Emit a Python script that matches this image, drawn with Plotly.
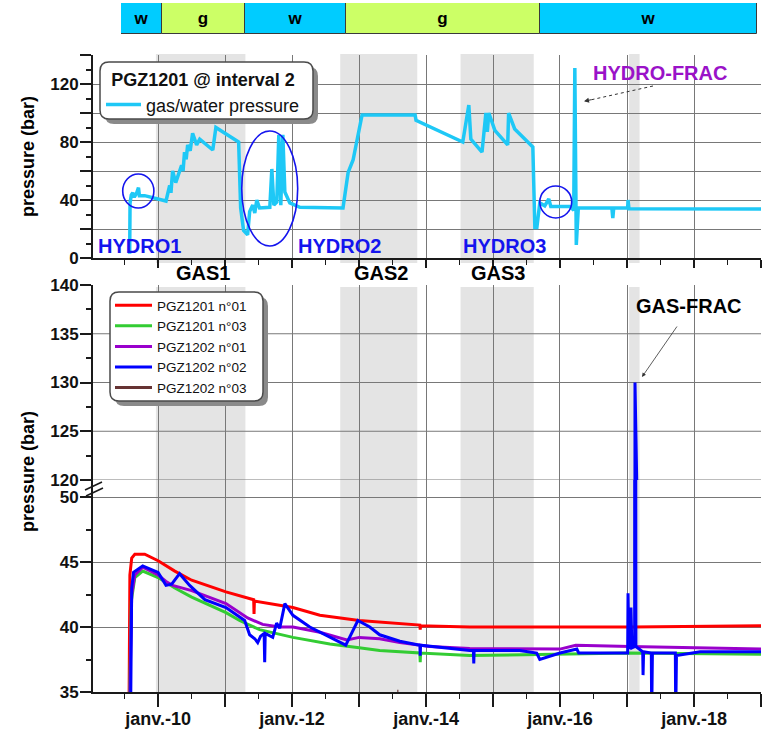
import plotly.graph_objects as go

W, H = 769, 730
FONT = "Liberation Sans, Arial, sans-serif"


def fx(p):
    """Horizontal pixel position -> paper fraction."""
    return p / W


def fy(p):
    """Vertical pixel position (from top) -> paper fraction."""
    return 1 - p / H


# ---------------------------------------------------------------- data
# Phase strip (w = water, g = gas), relative lengths
phase_labels = ["w", "g", "w", "g", "w"]
phase_spans = [41, 83, 101, 194, 217]

# Gas injection periods (grey bands)
gas_start = ["2009-12-20", "2012-09-20", "2014-07-08", "2017-01-12"]
gas_end = ["2011-04-22", "2013-11-14", "2015-08-11", "2017-03-10"]
gas_names = ["GAS1", "GAS2", "GAS3"]

# PGZ1201 @ interval 2 - gas/water pressure (bar)
gw_dates = [
    "2009-07-30", "2009-08-01", "2009-08-08", "2009-08-16", "2009-08-24",
    "2009-09-05", "2009-09-16", "2009-09-21", "2009-10-20", "2009-12-14",
    "2010-02-13", "2010-03-05", "2010-03-12", "2010-03-21", "2010-04-07",
    "2010-05-09", "2010-05-17", "2010-05-25", "2010-06-03", "2010-06-11",
    "2010-06-25", "2010-07-08", "2010-07-30", "2010-08-16", "2010-10-26",
    "2010-11-12", "2011-02-13", "2011-03-16", "2011-03-27", "2011-04-12",
    "2011-05-04", "2011-05-15", "2011-06-01", "2011-06-12", "2011-06-23",
    "2011-07-08", "2011-09-02", "2011-09-13", "2011-09-24", "2011-10-10",
    "2011-10-21", "2011-11-01", "2011-11-12", "2011-11-23", "2011-12-20",
    "2012-02-13", "2012-10-05", "2012-11-02", "2012-11-29", "2013-01-17",
    "2013-11-02", "2013-11-07", "2014-07-20", "2014-08-22", "2014-09-02",
    "2014-11-02", "2014-11-23", "2014-12-01", "2014-12-09", "2015-01-11",
    "2015-03-22", "2015-03-27", "2015-04-29", "2015-07-09", "2015-08-06",
    "2015-08-17", "2015-08-28", "2015-09-13", "2015-10-10", "2015-11-01",
    "2015-11-12", "2016-02-24", "2016-03-16", "2016-03-22", "2016-03-30",
    "2016-04-10", "2016-10-10", "2016-10-15", "2016-10-20", "2017-01-04",
    "2017-01-06", "2017-01-11", "2019-01-01",
]
gw_pressure = [
    3, 38, 43.5, 45, 42,
    44.5, 48.5, 43, 43, 41,
    39.3, 50, 45, 60, 52,
    64, 60, 73, 68, 78,
    74, 86, 78, 82, 74.5,
    90, 83, 80, 34.5, 19,
    16, 32, 36.5, 31, 40,
    34.5, 35, 61.4, 36.5, 38.6,
    85, 36.5, 85, 45.5, 38,
    35, 34.5, 59, 67.6, 98.6,
    98.6, 95, 80, 105.5, 82,
    73, 100, 87, 100, 88,
    78, 100, 89, 80, 76.5,
    21, 21, 38, 36, 40.7,
    35.5, 35.5, 33, 131, 9,
    34.5, 34.5, 27.6, 34.5, 34.5,
    40, 34, 33.8,
]

# Borehole pressures (bar)
p1201_01_dates = [
    "2009-07-27", "2009-07-31", "2009-08-10", "2009-08-27", "2009-10-20",
    "2010-01-01", "2010-04-02", "2010-07-03", "2011-01-06", "2011-06-06",
    "2011-06-08", "2011-06-10", "2012-01-06", "2012-06-01", "2013-01-01",
    "2013-04-23", "2013-11-28", "2013-11-30", "2013-12-02", "2014-08-27",
    "2016-01-01", "2017-01-28", "2019-01-01",
]
p1201_01 = [
    34.8, 44, 45.3, 45.6, 45.6,
    45.1, 44.3, 43.6, 42.7, 42.1,
    41.0, 42.0, 41.5, 40.9, 40.5,
    40.4, 40.15, 39.8, 40.1, 40.0,
    40.0, 40.0, 40.1,
]

p1201_03_dates = [
    "2009-07-30", "2009-08-08", "2009-08-27", "2009-10-09", "2010-01-01",
    "2010-04-02", "2010-07-03", "2011-01-06", "2011-03-21", "2011-07-08",
    "2012-01-06", "2012-07-25", "2013-01-01", "2013-04-23", "2013-11-28",
    "2013-11-30", "2013-12-02", "2014-08-27", "2016-01-01", "2017-01-17",
    "2019-01-01",
]
p1201_03 = [
    34.8, 42, 43.8, 44.3, 43.8,
    43.0, 42.3, 41.1, 40.5, 39.8,
    39.2, 38.7, 38.4, 38.2, 38.0,
    37.3, 38.0, 37.8, 37.9, 38.0,
    37.9,
]

p1202_01_dates = [
    "2009-07-31", "2009-08-10", "2009-08-27", "2009-10-09", "2010-01-01",
    "2010-02-13", "2010-03-21", "2010-07-03", "2011-01-06", "2011-05-04",
    "2011-07-25", "2011-10-26", "2012-01-06", "2012-06-01", "2012-10-26",
    "2013-01-01", "2013-04-23", "2013-08-11", "2014-01-22", "2014-08-27",
    "2016-01-01", "2016-03-27", "2017-01-17", "2019-01-01",
]
p1202_01 = [
    34.8, 42.5, 44.0, 44.6, 44.0,
    43.5, 43.2, 42.8, 41.8, 40.7,
    40.2, 40.0, 40.0, 39.6, 39.0,
    39.2, 39.1, 38.8, 38.5, 38.35,
    38.3, 38.6, 38.5, 38.3,
]

p1202_02_dates = [
    "2009-08-05", "2009-08-10", "2009-08-20", "2009-10-09", "2010-01-01",
    "2010-02-13", "2010-03-16", "2010-04-28", "2010-06-22", "2010-09-13",
    "2011-01-06", "2011-04-18", "2011-05-15", "2011-06-12", "2011-06-28",
    "2011-07-14", "2011-08-02", "2011-08-05", "2011-08-08", "2011-09-18",
    "2011-10-09", "2011-10-26", "2011-11-23", "2012-01-06", "2012-04-07",
    "2012-07-25", "2012-10-20", "2012-12-25", "2013-02-28", "2013-04-23",
    "2013-08-11", "2013-11-28", "2013-11-30", "2013-12-02", "2014-08-27",
    "2014-09-16", "2014-09-18", "2014-09-20", "2015-05-26", "2015-08-27",
    "2015-09-13", "2016-01-01", "2016-04-02", "2016-04-12", "2017-01-04",
    "2017-01-06", "2017-01-11", "2017-01-22", "2017-01-27", "2017-02-11",
    "2017-02-13", "2017-02-18", "2017-03-27", "2017-03-29", "2017-04-01",
    "2017-05-13", "2017-05-15", "2017-05-19", "2017-09-21", "2017-09-23",
    "2017-09-27", "2018-02-03", "2019-01-01",
]
p1202_02 = [
    34.8, 43.0, 44.2, 44.7, 44.2,
    43.2, 43.3, 44.1, 43.2, 42.1,
    41.5, 40.5, 39.4, 39.1, 38.8,
    39.3, 39.5, 37.3, 39.5, 39.2,
    40.3, 39.9, 41.8, 40.9, 40.0,
    39.2, 38.6, 40.5, 40.0, 39.4,
    38.9, 38.6, 37.8, 38.6, 38.2,
    38.2, 37.2, 38.2, 38.2, 38.0,
    37.5, 38.0, 38.3, 38.0, 38.0,
    42.6, 38.3, 41.5, 38.4, 38.5,
    130.0, 38.5, 38.1, 36.3, 38.1,
    38.0, 33.0, 38.0, 38.0, 33.0,
    37.8, 38.1, 38.1,
]

p1202_03_dates = ["2013-07-28", "2013-08-03"]
p1202_03 = [35.05, 35.05]

# Time axis ticks
year_ticks = ["%d-01-01" % y for y in range(2009, 2020)]
year_text = ["", "janv.-10", "", "janv.-12", "", "janv.-14",
             "", "janv.-16", "", "janv.-18", ""]
x_range = ["2009-01-11", "2019-01-01"]

# ---------------------------------------------------------------- styles
C_GW = "#1ec8f6"
C_HYDRO = "#1414ee"
C_FRAC = "#9a12c8"
GRID = "#787878"
AXIS = "#1a1a1a"
BAND = "#e4e4e4"

series = [
    ("PGZ1201 n°01", p1201_01_dates, p1201_01, "#ff0000"),
    ("PGZ1201 n°03", p1201_03_dates, p1201_03, "#33cc33"),
    ("PGZ1202 n°01", p1202_01_dates, p1202_01, "#9900cc"),
    ("PGZ1202 n°02", p1202_02_dates, p1202_02, "#0000ff"),
    ("PGZ1202 n°03", p1202_03_dates, p1202_03, "#663333"),
]

fig = go.Figure()

# Phase strip as a horizontal stacked bar
base = 0
phase_colors = {"w": "#00ccff", "g": "#ccff66"}
for lab, span in zip(phase_labels, phase_spans):
    fig.add_trace(go.Bar(
        x=[span], y=[0], base=[base], orientation="h", width=1,
        marker=dict(color=phase_colors[lab], line=dict(color="#3a3a3a", width=1)),
        text=[lab], textposition="inside", insidetextanchor="middle", textangle=0,
        textfont=dict(family=FONT, size=17, color="black", weight="bold"),
        xaxis="x3", yaxis="y4", showlegend=False, hoverinfo="skip",
    ))
    base += span

# Gas/water pressure (upper panel)
fig.add_trace(go.Scatter(
    x=gw_dates, y=gw_pressure, mode="lines", name="gas/water pressure",
    line=dict(color=C_GW, width=3.5), xaxis="x", yaxis="y", legend="legend2",
))

# Borehole pressures, drawn on both halves of the broken axis
for name, d, v, c in series:
    fig.add_trace(go.Scatter(
        x=d, y=v, mode="lines", name=name, legendgroup=name,
        line=dict(color=c, width=3), xaxis="x2", yaxis="y2", legend="legend",
    ))
for name, d, v, c in series:
    fig.add_trace(go.Scatter(
        x=d, y=v, mode="lines", name=name, legendgroup=name, showlegend=False,
        line=dict(color=c, width=3), xaxis="x2", yaxis="y3",
    ))

# ---------------------------------------------------------------- shapes
shapes = []
for s, e in zip(gas_start, gas_end):
    for y0, y1 in ((263, 54), (692, 287)):
        shapes.append(dict(type="rect", xref="x", yref="paper", x0=s, x1=e,
                           y0=fy(y0), y1=fy(y1), fillcolor=BAND,
                           line=dict(width=0), layer="below"))

# horizontal grid of the 120-140 band
for v in (120, 125, 130, 135):
    shapes.append(dict(type="line", xref="x2 domain", yref="y2", x0=0, x1=1,
                       y0=v, y1=v, line=dict(color=GRID, width=1), layer="below"))

# highlighted hydro events
for x0, x1, y0, y1 in (("2009-06-22", "2009-12-09", 34.5, 57.9),
                       ("2011-04-02", "2012-02-01", 8.3, 87.6),
                       ("2015-09-13", "2016-03-05", 27.6, 49.7)):
    shapes.append(dict(type="circle", xref="x", yref="y", x0=x0, x1=x1,
                       y0=y0, y1=y1, line=dict(color=C_HYDRO, width=1.6)))

# axis break marks
for (a, b, c, d) in ((85, 490, 102, 482), (86, 496, 103, 488)):
    shapes.append(dict(type="line", xref="paper", yref="paper",
                       x0=fx(a), y0=fy(b), x1=fx(c), y1=fy(d),
                       line=dict(color=AXIS, width=1.5)))

# dashed leader to the hydro-frac peak
shapes.append(dict(type="line", xref="paper", yref="paper",
                   x0=fx(653), y0=fy(86), x1=fx(588), y1=fy(100.5),
                   line=dict(color="#333333", width=1, dash="dot")))


def rounded_box(x0, y0, x1, y1, r):
    pts = [
        ("M", x0 + r, y0), ("L", x1 - r, y0), ("Q", x1, y0, x1, y0 + r),
        ("L", x1, y1 - r), ("Q", x1, y1, x1 - r, y1), ("L", x0 + r, y1),
        ("Q", x0, y1, x0, y1 - r), ("L", x0, y0 + r), ("Q", x0, y0, x0 + r, y0),
    ]
    out = []
    for p in pts:
        cmd, coords = p[0], p[1:]
        xy = []
        for i in range(0, len(coords), 2):
            xy.append("%.5f,%.5f" % (fx(coords[i]), fy(coords[i + 1])))
        out.append(cmd + " ".join(xy))
    return " ".join(out) + " Z"


for (x0, y0, x1, y1) in ((100, 62, 313, 119), (110, 292, 263, 401)):
    shapes.append(dict(type="path", xref="paper", yref="paper",
                       path=rounded_box(x0 + 5, y0 + 5, x1 + 5, y1 + 5, 9),
                       fillcolor="#8a8a8a", line=dict(width=0), layer="above"))
    shapes.append(dict(type="path", xref="paper", yref="paper",
                       path=rounded_box(x0, y0, x1, y1, 9),
                       fillcolor="white", line=dict(color="#4a4a4a", width=1.5),
                       layer="above"))

# ---------------------------------------------------------------- annotations
ann = []


def label(text, x, y, color="black", size=20, angle=0):
    ann.append(dict(text=text, x=fx(x), y=fy(y), xref="paper", yref="paper",
                    showarrow=False, xanchor="center", yanchor="middle",
                    textangle=angle,
                    font=dict(family=FONT, size=size, color=color, weight="bold")))


label("HYDRO1", 139, 246, C_HYDRO)
label("HYDRO2", 339, 246, C_HYDRO)
label("HYDRO3", 505, 246, C_HYDRO)
label("HYDRO-FRAC", 660, 73, C_FRAC)
for name, x in zip(gas_names, (203, 381, 498)):
    label(name, x, 273)
label("GAS-FRAC", 689, 306)
label("pressure (bar)", 28, 157, size=18, angle=-90)
label("pressure (bar)", 28, 472, size=18, angle=-90)

# arrowheads
ann.append(dict(text="", x=fx(584), y=fy(101.3), xref="paper", yref="paper",
                ax=9, ay=-2, showarrow=True, arrowhead=2, arrowsize=1,
                arrowwidth=1, arrowcolor="#333333"))
ann.append(dict(text="", x=fx(642), y=fy(377), xref="paper", yref="paper",
                ax=36, ay=-52, showarrow=True, arrowhead=2, arrowsize=1,
                arrowwidth=0.8, arrowcolor="#333333"))

# ---------------------------------------------------------------- axes
tickfont = dict(family=FONT, size=17, color="#111111", weight="bold")
xdom = [fx(93), fx(761)]

common_x = dict(type="date", range=x_range, domain=xdom, tickmode="array",
                tickvals=year_ticks, showgrid=True, gridcolor=GRID, gridwidth=1,
                showline=True, linecolor=AXIS, linewidth=2, zeroline=False,
                automargin=False,
                ticks="outside", tickcolor=AXIS, tickwidth=1.5,
                minor=dict(tick0="2009-01-01", dtick="M6", ticks="outside",
                           ticklen=5, tickcolor=AXIS, tickwidth=1, showgrid=False))

common_y = dict(showline=True, linecolor=AXIS, linewidth=2, zeroline=False,
                automargin=False,
                ticks="outside", tickcolor=AXIS, tickwidth=1.5, ticklen=11,
                ticklabelstandoff=-2,
                tickfont=tickfont, gridcolor=GRID, gridwidth=1)

fig.update_layout(
    template="none",
    width=W, height=H, autosize=False,
    margin=dict(l=0, r=0, t=0, b=0, pad=0),
    paper_bgcolor="white", plot_bgcolor="rgba(0,0,0,0)",
    barmode="overlay", bargap=0,
    font=dict(family=FONT, color="#111111"),
    xaxis=dict(common_x, anchor="y", ticktext=[""] * len(year_ticks), ticklen=8),
    yaxis=dict(common_y, domain=[fy(258), fy(55)], range=[0, 140],
               anchor="x", tickmode="array", tickvals=list(range(0, 141, 20)),
               ticktext=["0", "", "40", "", "80", "", "120", ""], showgrid=True,
               minor=dict(dtick=10, ticks="outside", ticklen=5, tickcolor=AXIS)),
    xaxis2=dict(common_x, anchor="y3", ticktext=year_text, ticklen=13,
                ticklabelstandoff=-4,
                tickfont=dict(family=FONT, size=18, color="#111111", weight="bold")),
    yaxis2=dict(common_y, domain=[fy(480), fy(285)], range=[120, 140],
                anchor="x2", tickmode="array", tickvals=[120, 125, 130, 135, 140],
                showgrid=False,
                minor=dict(dtick=2.5, ticks="outside", ticklen=5, tickcolor=AXIS)),
    yaxis3=dict(common_y, domain=[fy(692), fy(480)], range=[35, 35 + 212 / 13],
                anchor="x2", tickmode="array", tickvals=[35, 40, 45, 50],
                showgrid=True,
                minor=dict(tick0=35, dtick=2.5, ticks="outside", ticklen=5,
                           tickcolor=AXIS)),
    xaxis3=dict(domain=[fx(121), fx(757)], range=[0, sum(phase_spans)],
                anchor="y4", visible=False, fixedrange=True, automargin=False),
    yaxis4=dict(domain=[fy(34), fy(3)], range=[-0.5, 0.5], anchor="x3",
                visible=False, fixedrange=True, automargin=False),
    legend=dict(x=fx(110), y=fy(290), xanchor="left", yanchor="top",
                bgcolor="rgba(0,0,0,0)", borderwidth=0, itemwidth=37,
                tracegroupgap=0, traceorder="normal",
                font=dict(family=FONT, size=13.5, color="#111111")),
    legend2=dict(x=fx(101), y=fy(63), xanchor="left", yanchor="top",
                 bgcolor="rgba(0,0,0,0)", borderwidth=0, itemwidth=35,
                 title=dict(text="<b>PGZ1201 @ interval 2</b>", side="top center",
                            font=dict(family=FONT, size=18, color="#111111")),
                 font=dict(family=FONT, size=18, color="#111111")),
    shapes=shapes,
    annotations=ann,
)

fig.write_html("out.html")
